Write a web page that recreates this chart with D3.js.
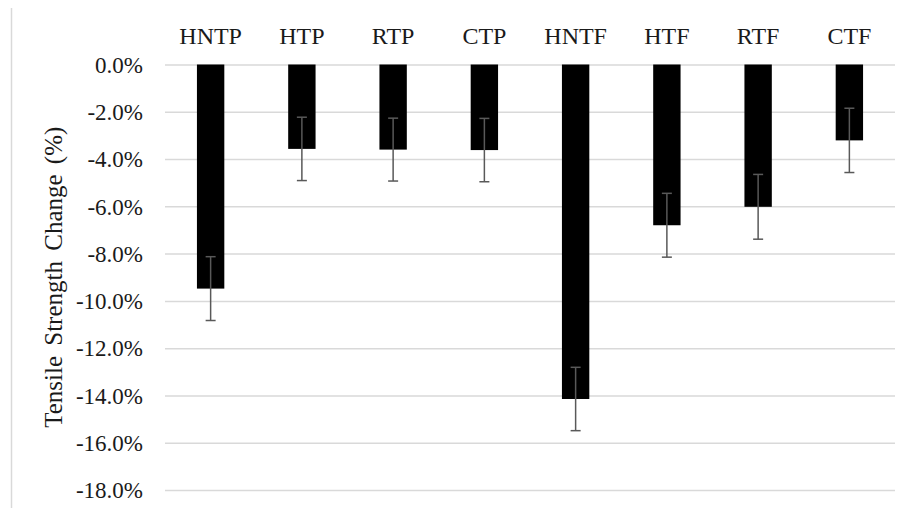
<!DOCTYPE html>
<html>
<head>
<meta charset="utf-8">
<script src="https://cdn.jsdelivr.net/npm/d3@7"></script>
<style>
  html, body { margin: 0; padding: 0; background: #fff; }
  svg { display: block; }
  text { font-family: "Liberation Serif", "Times New Roman", serif; fill: #1a1a1a; }
</style>
</head>
<body>
<svg id="chart" width="906" height="508"></svg>
<script>
const categories = ["HNTP", "HTP", "RTP", "CTP", "HNTF", "HTF", "RTF", "CTF"];
const values = [-0.0948, -0.0357, -0.0360, -0.0362, -0.1415, -0.0680, -0.0602, -0.0321];
const errors = [0.0135, 0.0134, 0.0133, 0.0134, 0.0134, 0.0135, 0.0137, 0.0136];
const yTicks = [0, -0.02, -0.04, -0.06, -0.08, -0.10, -0.12, -0.14, -0.16, -0.18];
const yTitle = "Tensile Strength Change (%)";

const svg = d3.select("#chart");
const W = 906, H = 508;
const m = { left: 165, right: 11, top: 64.5, bottom: 18 };

const x = d3.scaleBand().domain(categories).range([m.left, W - m.right]).paddingInner(0.7).paddingOuter(0.35);
const y = d3.scaleLinear().domain([-0.18, 0]).range([H - m.bottom, m.top]);

// chart frame left line
svg.append("line").attr("x1", 11.5).attr("x2", 11.5).attr("y1", 8).attr("y2", H)
  .attr("stroke", "#d9d9d9").attr("stroke-width", 1.5);

// gridlines
const fmt = d => (d * 100).toFixed(1).replace("\u2212", "-") + "%";
const yAxis = d3.axisLeft(y).tickValues(yTicks).tickSize(-(W - m.right - m.left)).tickFormat(fmt);
const gy = svg.append("g").attr("transform", `translate(${m.left},0)`).call(yAxis);
gy.select(".domain").remove();
gy.selectAll(".tick line").attr("stroke", "#d9d9d9").attr("stroke-width", 1.5);
gy.selectAll(".tick text").attr("x", -22).attr("dy", "0.34em")
  .style("font-size", "23px").style("font-family", "Liberation Serif").attr("fill", "#1a1a1a");

// bars
svg.append("g").selectAll("rect").data(categories).join("rect")
  .attr("x", d => x(d))
  .attr("width", x.bandwidth())
  .attr("y", y(0))
  .attr("height", (d, i) => y(values[i]) - y(0))
  .attr("fill", "#000");

// error bars
const eb = svg.append("g").attr("stroke", "#595959").attr("stroke-width", 1.5);
categories.forEach((c, i) => {
  const cx = x(c) + x.bandwidth() / 2;
  const y1 = y(values[i] + errors[i]), y2 = y(values[i] - errors[i]);
  eb.append("line").attr("x1", cx).attr("x2", cx).attr("y1", y1).attr("y2", y2);
  eb.append("line").attr("x1", cx - 5).attr("x2", cx + 5).attr("y1", y1).attr("y2", y1);
  eb.append("line").attr("x1", cx - 5).attr("x2", cx + 5).attr("y1", y2).attr("y2", y2);
});

// category labels on top
const xAxis = d3.axisTop(x).tickSize(0);
const gx = svg.append("g").attr("transform", `translate(0,${m.top})`).call(xAxis);
gx.select(".domain").remove();
gx.selectAll(".tick text").attr("y", -21)
  .style("font-size", "24px").style("font-family", "Liberation Serif").attr("fill", "#1a1a1a");

// y title
svg.append("text")
  .attr("transform", `translate(62,${(y(0) + y(-0.18)) / 2}) rotate(-90)`)
  .attr("text-anchor", "middle")
  .style("font-size", "25px")
  .style("word-spacing", "4px")
  .text(yTitle);
</script>
</body>
</html>
